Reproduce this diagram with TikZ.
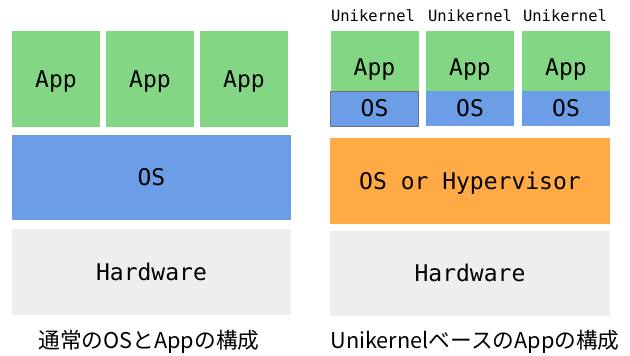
\documentclass[tikz,border=0pt]{standalone}
\usepackage{fontspec}
\usepackage{tikz}
\setmonofont{DejaVu Sans Mono}
\newfontfamily\jpfont{Noto Sans CJK JP}

\definecolor{appgreen}{RGB}{131,214,131}
\definecolor{osblue}{RGB}{108,158,232}
\definecolor{hvorange}{RGB}{255,170,68}
\definecolor{hwgray}{RGB}{238,238,238}

\begin{document}
\begin{tikzpicture}[x=1pt,y=-1pt,
    layer/.style={inner sep=0pt, text height=16.8pt, text depth=0pt,
        font=\ttfamily\fontsize{23}{23}\selectfont},
    app/.style={layer, fill=appgreen, minimum width=88pt},
    kern/.style={layer, fill=osblue, minimum width=88pt, minimum height=35pt},
    caption/.style={font=\jpfont\fontsize{21.7}{21.7}\selectfont}]

    \useasboundingbox (0,0) rectangle (630,356);

    % usual OS
    \node[app, minimum height=96pt] (app_1) at (56,79) {App};
    \node[app, minimum height=96pt] (app_2) at (150,79) {App};
    \node[app, minimum height=96pt] (app_3) at (244,79) {App};

    \node[layer, fill=osblue, minimum width=279pt, minimum height=85pt] (os) at (151.5,177.5) {OS};
    \node[layer, fill=hwgray, minimum width=279pt, minimum height=86pt] (hw_l) at (151.5,272) {Hardware};
    \node[caption] (cap_l) at (149,342) {通常のOSとAppの構成};

    % unikernel
    \node[font=\ttfamily\fontsize{15.5}{15.5}\selectfont] (uk_1) at (373,16) {Unikernel};
    \node[font=\ttfamily\fontsize{15.5}{15.5}\selectfont] (uk_2) at (470,16) {Unikernel};
    \node[font=\ttfamily\fontsize{15.5}{15.5}\selectfont] (uk_3) at (565,16) {Unikernel};

    \node[app, minimum height=60pt, text height=28pt] (uapp_1) at (374.5,61) {App};
    \node[app, minimum height=60pt, text height=28pt] (uapp_2) at (470,61) {App};
    \node[app, minimum height=60pt, text height=28pt] (uapp_3) at (566,61) {App};

    \node[kern, draw=black!55, line width=0.8pt] (uos_1) at (374.5,108.5) {OS};
    \node[kern] (uos_2) at (470,108.5) {OS};
    \node[kern] (uos_3) at (566,108.5) {OS};

    \node[layer, fill=hvorange, minimum width=280pt, minimum height=86pt] (hv) at (470,181) {OS or Hypervisor};
    \node[layer, fill=hwgray, minimum width=280pt, minimum height=85pt] (hw_r) at (470,273.5) {Hardware};
    \node[caption] (cap_r) at (475,342) {UnikernelベースのAppの構成};

\end{tikzpicture}
\end{document}
